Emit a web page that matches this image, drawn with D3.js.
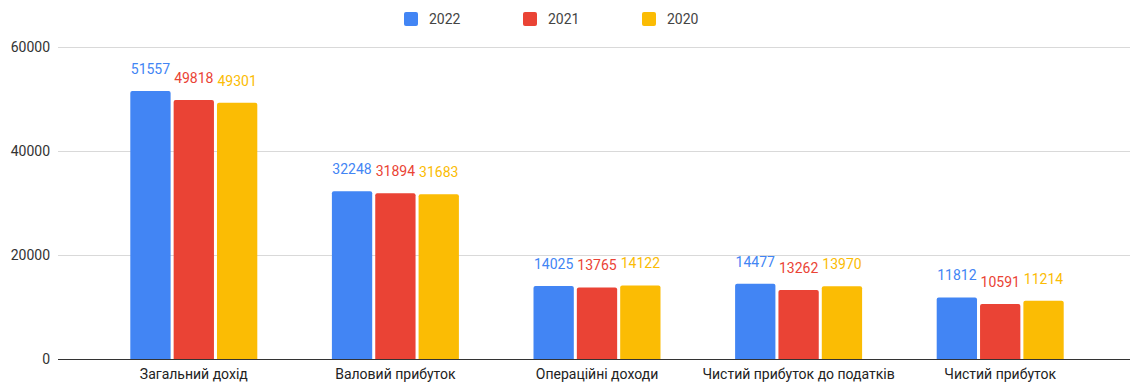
<!DOCTYPE html>
<html><head><meta charset="utf-8">
<script src="https://cdn.jsdelivr.net/npm/d3@7"></script>
<style>body{margin:0;background:#fff}svg{display:block;font-family:Roboto,Arial,sans-serif}</style>
</head><body><svg id="c" width="1132" height="383"></svg>
<script>
const categories = ["Загальний дохід","Валовий прибуток","Операційні доходи","Чистий прибуток до податків","Чистий прибуток"];
const seriesNames = ["2022","2021","2020"];
const v2022 = [51557,32248,14025,14477,11812];
const v2021 = [49818,31894,13765,13262,10591];
const v2020 = [49301,31683,14122,13970,11214];
const yTicks = [0,20000,40000,60000];
const colors = ["#4285F4","#EA4335","#FBBC04"];

(function(){
const series = [v2022,v2021,v2020];
const svg = d3.select("#c");
const pL = 58, pR = 1130, pT = 47, pB = 359;
const x = d3.scaleBand().domain(categories).range([93,1101]).paddingInner(0).paddingOuter(0);
const gw = 127;
const xg = d3.scaleBand().domain(seriesNames).range([0,gw]).paddingInner(0.07);
const y = d3.scaleLinear().domain([0,60000]).range([pB,pT]);

svg.append("g").selectAll("line").data(yTicks.filter(d=>d>0)).join("line")
  .attr("x1",pL).attr("x2",pR).attr("y1",d=>y(d)+0.5).attr("y2",d=>y(d)+0.5)
  .attr("stroke","#d9d9d9").attr("stroke-width",1);
svg.append("g").selectAll("text").data(yTicks).join("text")
  .attr("x",50).attr("y",d=>y(d)).attr("dy","0.35em").attr("text-anchor","end")
  .attr("font-size",14).attr("fill","#333").text(d=>d);

const groups = svg.append("g").selectAll("g").data(categories).join("g")
  .attr("transform",c=>`translate(${x(c)+x.bandwidth()/2-gw/2},0)`);
seriesNames.forEach((s,si)=>{
  groups.append("path")
    .attr("fill",colors[si])
    .attr("d",(c,i)=>{
      const v=series[si][i], x0=xg(s), w=xg.bandwidth(), y0=y(v), r=2;
      return `M${x0},${pB}V${y0+r}Q${x0},${y0} ${x0+r},${y0}H${x0+w-r}Q${x0+w},${y0} ${x0+w},${y0+r}V${pB}Z`;
    });
  groups.append("text")
    .attr("x",xg(s)+xg.bandwidth()/2)
    .attr("y",(c,i)=>y(series[si][i])-22)
    .attr("dy","0.35em").attr("text-anchor","middle")
    .attr("font-size",14).attr("fill",colors[si])
    .text((c,i)=>series[si][i]);
});

svg.append("line").attr("x1",pL).attr("x2",pR).attr("y1",pB+0.5).attr("y2",pB+0.5)
  .attr("stroke","#333").attr("stroke-width",1);

svg.append("g").selectAll("text").data(categories).join("text")
  .attr("x",c=>x(c)+x.bandwidth()/2).attr("y",374).attr("dy","0.35em")
  .attr("text-anchor","middle").attr("font-size",14).attr("fill","#222").text(c=>c);

const legX = [404,523,642];
const leg = svg.append("g").selectAll("g").data(seriesNames).join("g")
  .attr("transform",(d,i)=>`translate(${legX[i]},12)`);
leg.append("rect").attr("width",14).attr("height",14).attr("rx",2).attr("fill",(d,i)=>colors[i]);
leg.append("text").attr("x",25).attr("y",7).attr("dy","0.35em").attr("font-size",14).attr("fill","#444").text(d=>d);
})();
</script></body></html>
